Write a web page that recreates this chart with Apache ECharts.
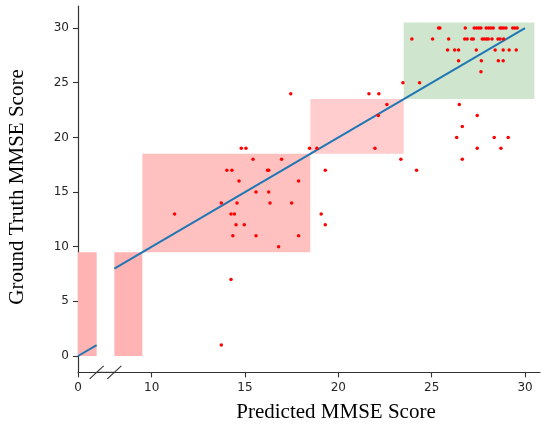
<!DOCTYPE html>
<html>
<head>
<meta charset="utf-8">
<script src="https://cdn.jsdelivr.net/npm/echarts@6/dist/echarts.min.js"></script>
<style>html,body{margin:0;padding:0;background:#fff}#chart{width:542px;height:425px}</style>
</head>
<body>
<div id="chart"></div>
<script>
// ---- data ----
const xTicksLeft = [0];
const xTicksRight = [10, 15, 20, 25, 30];
const yTicks = [0, 5, 10, 15, 20, 25, 30];
const leftSegment = [0, 1];       // x range shown before the break
const rightSegment = [8, 30.8];   // x range shown after the break
const yRange = [-1.5, 32];
// score regions (x from, x to == y from, y to)
const regionBounds = [[0, 9.5], [9.5, 18.5], [18.5, 23.5], [23.5, 30.5]];
// identity fit line y = x
const fitLine = [0, 30];
// ground truth levels and predicted scores at each level
const truthLevels = [30, 29, 28, 27, 26, 25, 24, 23, 22, 21, 20, 19, 18, 17, 16, 15, 14, 13, 12, 11, 10, 7, 1];
const predictedByLevel = [
  [25.37, 25.44, 26.8, 27.28, 27.41, 27.53, 27.64, 27.92, 28.05, 28.17, 28.30, 28.66, 28.75, 28.85, 28.98, 29.34, 29.46, 29.58],
  [23.94, 25.05, 25.91, 26.77, 26.9, 27.14, 27.23, 27.71, 27.82, 27.94, 28.03, 28.23, 28.55, 28.66, 28.85],
  [25.85, 26.23, 26.44, 27.39, 28.4, 28.83, 29.15, 29.53],
  [26.44, 27.66, 28.57, 28.83],
  [27.64],
  [23.46, 24.35],
  [17.45, 21.64, 22.17],
  [22.6, 26.48],
  [22.14, 27.44],
  [26.64],
  [26.34, 28.35, 29.1],
  [14.8, 15.05, 18.46, 18.85, 21.96, 27.44, 28.71],
  [15.43, 16.96, 23.35, 26.64],
  [14.03, 14.3, 16.21, 16.27, 19.3, 24.19],
  [14.68, 17.87],
  [15.59, 16.27],
  [13.73, 14.57, 16.34, 17.5],
  [11.23, 14.25, 14.43, 19.08],
  [14.52, 14.96, 19.3],
  [14.35, 15.59, 17.87],
  [16.8],
  [14.25],
  [13.73]
];

// ---- styles ----
const regionColors = ['rgb(255,179,179)', 'rgb(255,192,192)', 'rgb(255,205,205)', 'rgb(207,229,205)'];
const axisColor = '#333';
const labelStyle = {fontFamily: 'DejaVu Sans', fontSize: 12, color: '#262626'};

const scatterData = [];
truthLevels.forEach((t, i) => predictedByLevel[i].forEach(p => scatterData.push([p, t])));
const regionData = regionBounds.map(b => [b[0], b[1], b[0], b[1]]);

const chart = echarts.init(document.getElementById('chart'), null, {renderer: 'canvas'});

// layout
const px0 = 78, unit = 18.667;
const leftW = (leftSegment[1] - leftSegment[0]) * unit;
const rightLeft = 151.67 - (10 - rightSegment[0]) * unit;
const rightRight = rightLeft + (rightSegment[1] - rightSegment[0]) * unit;
const gridTop = 6.2, gridBottom = 425 - 372.4;
const axisY = 372.4;

function renderRect(params, api) {
  const x0 = api.value(0), x1 = api.value(1), y0 = api.value(2), y1 = api.value(3);
  const p0 = api.coord([x0, y0]);
  const p1 = api.coord([x1, y1]);
  const cs = params.coordSys;
  const shape = echarts.graphic.clipRectByRect(
    {x: p0[0], y: p1[1], width: p1[0] - p0[0], height: p0[1] - p1[1]},
    {x: cs.x, y: cs.y, width: cs.width, height: cs.height});
  return shape && {type: 'rect', shape: shape, style: {fill: regionColors[params.dataIndex]}};
}

const baseX = {
  type: 'value',
  axisLine: {show: true, onZero: false, lineStyle: {color: axisColor, width: 1.2}},
  axisTick: {show: true, length: 5, lineStyle: {color: axisColor, width: 1.1}},
  axisLabel: Object.assign({margin: 9}, labelStyle),
  splitLine: {show: false}
};

const option = {
  animation: false,
  backgroundColor: '#fff',
  grid: [
    {left: px0, width: leftW, top: gridTop, bottom: gridBottom},
    {left: rightLeft, width: rightRight - rightLeft, top: gridTop, bottom: gridBottom}
  ],
  xAxis: [
    Object.assign({}, baseX, {gridIndex: 0, min: leftSegment[0], max: leftSegment[1],
      axisTick: Object.assign({}, baseX.axisTick, {customValues: xTicksLeft}),
      axisLabel: Object.assign({}, baseX.axisLabel, {customValues: xTicksLeft})}),
    Object.assign({}, baseX, {gridIndex: 1, min: rightSegment[0], max: rightSegment[1],
      axisTick: Object.assign({}, baseX.axisTick, {customValues: xTicksRight}),
      axisLabel: Object.assign({}, baseX.axisLabel, {customValues: xTicksRight})})
  ],
  yAxis: [
    {type: 'value', gridIndex: 0, min: yRange[0], max: yRange[1],
      axisLine: {show: true, onZero: false, lineStyle: {color: axisColor, width: 1.2}},
      axisTick: {show: true, length: 5, customValues: yTicks, lineStyle: {color: axisColor, width: 1.1}},
      axisLabel: Object.assign({margin: 9, customValues: yTicks}, labelStyle),
      splitLine: {show: false}},
    {type: 'value', gridIndex: 1, min: yRange[0], max: yRange[1], show: false}
  ],
  series: [
    {type: 'custom', xAxisIndex: 0, yAxisIndex: 0, renderItem: renderRect, data: regionData,
      encode: {x: [0, 1], y: [2, 3]}, z: 1, silent: true},
    {type: 'custom', xAxisIndex: 1, yAxisIndex: 1, renderItem: renderRect, data: regionData,
      encode: {x: [0, 1], y: [2, 3]}, z: 1, silent: true},
    {type: 'line', xAxisIndex: 0, yAxisIndex: 0, showSymbol: false, clip: true,
      data: [[fitLine[0], fitLine[0]], [leftSegment[1], leftSegment[1]]],
      lineStyle: {color: '#1f77b4', width: 2}, z: 3},
    {type: 'line', xAxisIndex: 1, yAxisIndex: 1, showSymbol: false, clip: true,
      data: [[rightSegment[0], rightSegment[0]], [fitLine[1], fitLine[1]]],
      lineStyle: {color: '#1f77b4', width: 2}, z: 3},
    {type: 'scatter', xAxisIndex: 1, yAxisIndex: 1, data: scatterData, symbolSize: 3.5,
      itemStyle: {color: '#ff0000', opacity: 1}, z: 4}
  ],
  graphic: [
    {type: 'line', shape: {x1: px0 + leftW, y1: axisY, x2: rightLeft, y2: axisY},
      style: {stroke: axisColor, lineWidth: 1.2}},
    {type: 'line', shape: {x1: px0 + leftW - 7, y1: axisY + 6.5, x2: px0 + leftW + 7, y2: axisY - 6.5},
      style: {stroke: axisColor, lineWidth: 1.1}},
    {type: 'line', shape: {x1: rightLeft - 7, y1: axisY + 6.5, x2: rightLeft + 7, y2: axisY - 6.5},
      style: {stroke: axisColor, lineWidth: 1.1}},
    {type: 'text', x: 336, y: 412,
      style: {text: 'Predicted MMSE Score', font: '21px "Liberation Serif"', fill: '#000',
        textAlign: 'center', textVerticalAlign: 'middle'}},
    {type: 'text', x: 17, y: 187, rotation: Math.PI / 2,
      style: {text: 'Ground Truth MMSE Score', font: '21px "Liberation Serif"', fill: '#000',
        textAlign: 'center', textVerticalAlign: 'middle'}}
  ]
};
chart.setOption(option);
</script>
</body>
</html>
